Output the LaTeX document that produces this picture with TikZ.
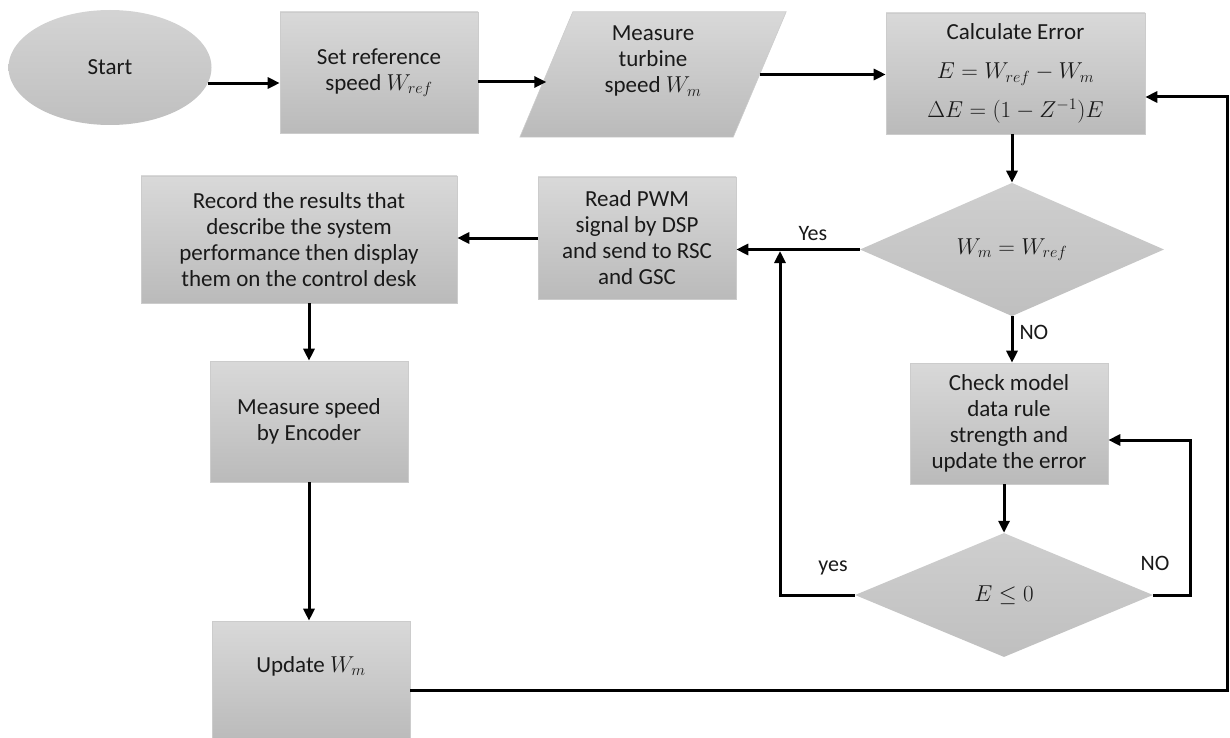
\RequirePackage{fix-cm}
\documentclass[tikz,border=0pt]{standalone}
\usepackage{fontspec}
\setmainfont{Carlito}
\usetikzlibrary{shapes.geometric,arrows.meta,calc,backgrounds}
\begin{document}
\begin{tikzpicture}[x=1pt,y=-1pt,
  shadefill/.style={top color=black!15, bottom color=black!27},
  box/.style={rectangle, draw=black!20, line width=0.6pt, shadefill, align=center,
    font=\fontsize{23}{26}\selectfont, inner sep=0pt, text=black!90},
  plain/.style={rectangle, align=center, font=\fontsize{23}{26}\selectfont, inner sep=0pt, text=black!90},
  decision/.style={diamond, draw=none, top color=black!19, bottom color=black!25, inner sep=0pt,
    font=\fontsize{23}{26}\selectfont, text=black!90},
  arr/.style={line width=3pt, -{Triangle[length=12pt,width=11pt]}},
  lab/.style={font=\fontsize{22}{26}\selectfont, text=black!90, inner sep=2pt}
]
\useasboundingbox (0,0) rectangle (1230,738);

% nodes
\node[ellipse, draw=none, top color=black!17, bottom color=black!25, minimum width=203, minimum height=115,
  inner sep=0pt, font=\fontsize{23}{26}\selectfont, text=black!90] (start) at (110,67.5) {Start\\[6pt]};
\node[box, minimum width=198, minimum height=121] (set) at (379,72.5) {Set reference\\speed $W_{ref}$};
\node[plain, minimum width=213, minimum height=125] (para) at (653,74.5) {Measure\\turbine\\speed $W_m$\\[4pt]};
\node[box, minimum width=259, minimum height=121] (calc) at (1015.5,73.5)
  {Calculate Error\\[13pt] $E=W_{ref}-W_m$\\[13pt] $\Delta E=(1-Z^{-1})E$};
\node[decision, minimum width=304, minimum height=123] (d1) at (1012,249.5) {$W_m=W_{ref}$};
\node[box, minimum width=198, minimum height=122] (read) at (637,238)
  {Read PWM\\signal by DSP\\and send to RSC\\and GSC};
\node[box, minimum width=316, minimum height=127] (record) at (299,239.5)
  {Record the results that\\describe the system\\performance then display\\them on the control desk};
\node[box, minimum width=198, minimum height=121] (check) at (1009,423.5)
  {Check model\\data rule\\strength and\\update the error};
\node[decision, minimum width=298, minimum height=124] (d2) at (1004,595) {$E\leq 0$};
\node[box, minimum width=198, minimum height=121] (enc) at (309,421.5) {Measure speed\\by Encoder};
\node[box, minimum width=198, minimum height=121] (update) at (311,681.5) {Update $W_m$\\[8pt]};

% parallelogram outline behind its text
\begin{scope}[on background layer]
\shade[shadefill, draw=black!20, line width=0.6pt]
  ($(para.north west)+(26.5,0)$) -- ($(para.north east)+(26.5,0)$) --
  ($(para.south east)+(-26.5,0)$) -- ($(para.south west)+(-26.5,0)$) -- cycle;
\end{scope}

% connectors
\draw[arr] (start.-9) -- (start.-9 -| set.west);
\draw[arr] ([yshift=-9.5pt]set.east) -- ([yshift=-9.5pt]set.east -| para.west);
\draw[arr] (para.east) -- (para.east -| calc.west);
\draw[arr] (calc.south -| d1.north) -- (d1.north);
\draw[arr] (d1.west) -- node[lab, above=5pt, pos=0.38] {Yes} (d1.west -| read.east);
\draw[arr] (read.west) -- (read.west -| record.east);
\draw[arr] (record.south -| enc.north) -- (enc.north);
\draw[arr] (enc.south) -- (enc.south |- update.north);
\draw[arr] (d1.south) -- node[lab, right=4pt, pos=0.35] {NO} (d1.south |- check.north);
\draw[arr] (check.south -| d2.north) -- (d2.north);

\coordinate (c3) at (1190,440);
\draw[arr] (d2.east) -- (d2.east -| c3) -- (c3) -- (c3 -| check.east);
\node[lab] (no2) at (1155,563) {NO};

\coordinate (c4) at (780,251);
\draw[arr] (d2.west) -- (d2.west -| c4) -- (c4);
\node[lab] (yes2) at (833,568) {yes};

\coordinate (fb1) at (1227,690);
\coordinate (fb2) at (1227,97);
\draw[arr] (update.east |- fb1) -- (fb1) -- (fb2) -- (fb2 -| calc.east);
\end{tikzpicture}
\end{document}
